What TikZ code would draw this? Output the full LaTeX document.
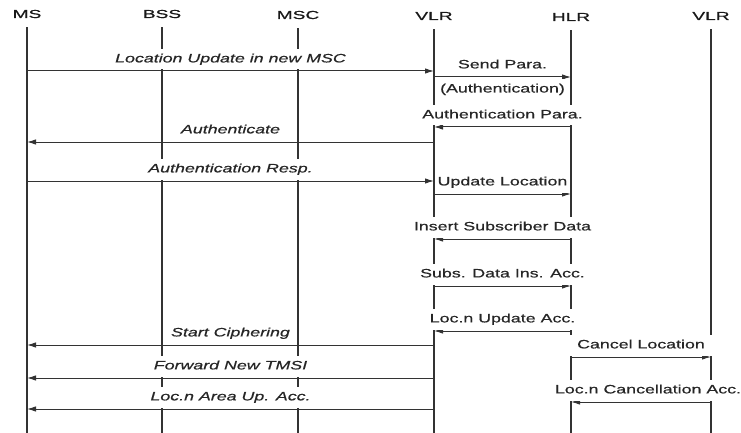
\documentclass[tikz,border=0pt]{standalone}
\usepackage{fontspec}
\setmainfont[FakeStretch=1.46,FakeBold=0.5]{Liberation Sans}
\newfontfamily\hdrfont[FakeStretch=1.65,FakeBold=0.8]{Liberation Sans}
\usepackage{tikz}
\usetikzlibrary{arrows.meta}
\tikzstyle{hdr}=[font=\hdrfont\fontsize{11.6}{13}\selectfont, text=black!90, inner sep=0pt]
\tikzstyle{life}=[line width=1.2pt, draw=black!80, shorten <=9pt]
\tikzstyle{msg}=[line width=1pt, draw=black!80, -{Latex[length=9pt,width=5.5pt]}]
\tikzstyle{lbl}=[font=\fontsize{12.2}{14}\selectfont, text=black!85, fill=white, text height=9pt, text depth=2.6pt, inner xsep=3pt, inner ysep=4.5pt, above=1pt]
\tikzstyle{ilbl}=[lbl, font=\itshape\fontsize{12.2}{14}\selectfont]

\begin{document}
\begin{tikzpicture}[x=1pt,y=-1pt]
\useasboundingbox (0,0) rectangle (741,433);
% entities
\node[hdr] (ms) at (27,14) {MS};
\node[hdr] (bss) at (162,14) {BSS};
\node[hdr] (msc) at (298,15) {MSC};
\node[hdr] (vlr) at (434,16) {VLR};
\node[hdr] (hlr) at (571,17) {HLR};
\node[hdr] (vlrb) at (711,16) {VLR};
\coordinate (bot) at (0,433);
\foreach \e in {ms,bss,msc,vlr,hlr,vlrb}
  \draw[life] (\e.south) -- (\e |- bot);
% message rows
\coordinate (m1) at (0,71);
\coordinate (m2) at (0,77);
\coordinate (m3) at (0,127);
\coordinate (m4) at (0,142);
\coordinate (m5) at (0,181);
\coordinate (m6) at (0,194);
\coordinate (m7) at (0,239);
\coordinate (m8) at (0,286);
\coordinate (m9) at (0,331);
\coordinate (m10) at (0,345);
\coordinate (m11) at (0,357);
\coordinate (m12) at (0,378);
\coordinate (m13) at (0,402);
\coordinate (m14) at (0,409);
% messages
\draw[msg] (ms |- m1) -- node[ilbl] (l1) {Location Update in new MSC} (vlr |- m1);
\draw[msg] (vlr |- m2) -- node[lbl] (l2) {Send Para.}
  node[lbl, above=0pt, below=2.5pt, inner xsep=1pt] (l2b) {(Authentication)} (hlr |- m2);
\draw[msg] (hlr |- m3) -- node[lbl] (l3) {Authentication Para.} (vlr |- m3);
\draw[msg] (vlr |- m4) -- node[ilbl] (l4) {Authenticate} (ms |- m4);
\draw[msg] (ms |- m5) -- node[ilbl] (l5) {Authentication Resp.} (vlr |- m5);
\draw[msg] (vlr |- m6) -- node[lbl, inner xsep=1pt] (l6) {Update Location} (hlr |- m6);
\draw[msg] (hlr |- m7) -- node[lbl] (l7) {Insert Subscriber Data} (vlr |- m7);
\draw[msg] (vlr |- m8) -- node[lbl] (l8) {Subs. Data Ins. Acc.} (hlr |- m8);
\draw[msg] (hlr |- m9) -- node[lbl] (l9) {Loc.n Update Acc.} (vlr |- m9);
\draw[msg] (vlr |- m10) -- node[ilbl] (l10) {Start Ciphering} (ms |- m10);
\draw[msg] (hlr |- m11) -- node[lbl, inner xsep=9pt] (l11) {Cancel Location} (vlrb |- m11);
\draw[msg] (vlr |- m12) -- node[ilbl] (l12) {Forward New TMSI} (ms |- m12);
\draw[msg] (vlrb |- m13) -- node[lbl, xshift=7pt] (l13) {Loc.n Cancellation Acc.} (hlr |- m13);
\draw[msg] (vlr |- m14) -- node[ilbl] (l14) {Loc.n Area Up. Acc.} (ms |- m14);
\end{tikzpicture}
\end{document}
